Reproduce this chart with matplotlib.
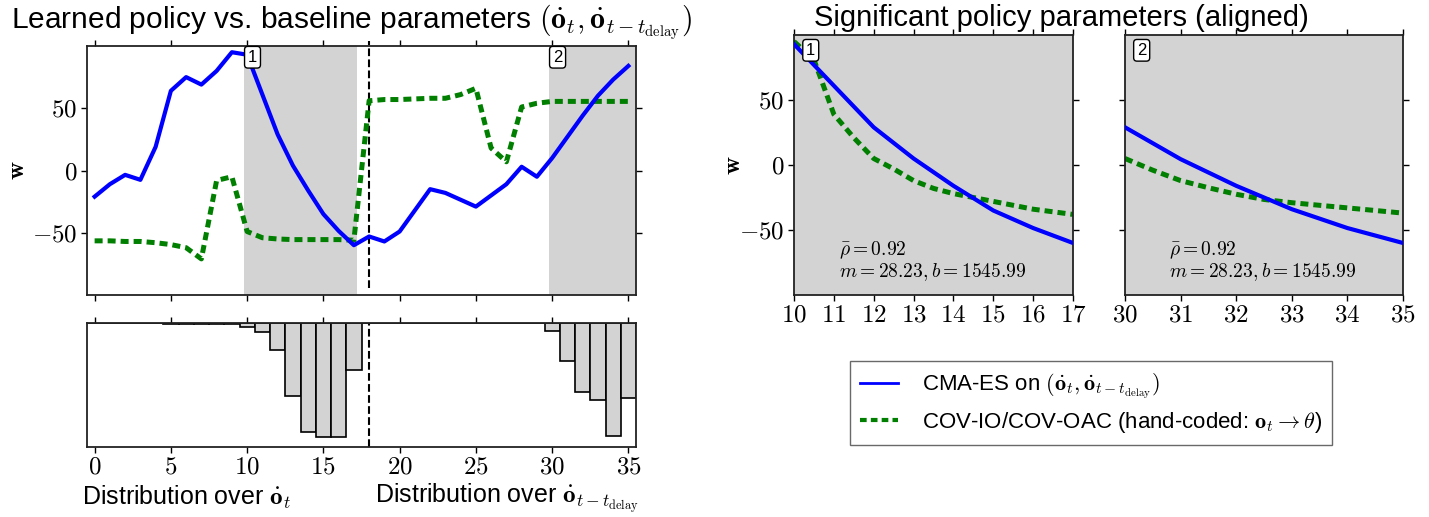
import matplotlib
matplotlib.use("Agg")
import matplotlib.pyplot as plt
from matplotlib import font_manager
import numpy as np

# parameter index (left panels)
idx = np.arange(36)
# CMA-ES learned weights
cma_w = [-21, -11, -3.5, -7.5, 19, 64, 75, 69, 80, 95,
         93, 61, 29, 4, -16, -35, -48.5, -60,
         -53, -57, -49, -32, -15, -18, -23.5, -29, -20, -11,
         3, -5, 10, 27, 44, 60, 73, 84]
# hand-coded baseline weights
cov_w = [-56.5, -56.5, -57, -57, -58, -59.5, -62, -71, -8, -5,
         -49, -54, -55, -55.5, -55.5, -55.5, -55.5, -56,
         56, 57, 57, 57.5, 58, 58, 61, 66, 18, 7,
         51, 54, 55.5, 55.5, 55.5, 55.5, 55.5, 55.5]
# distribution over inputs (share of panel depth, %)
dist = [0, 0, 0, 0, 0, 0.5, 0.8, 0.8, 0.8, 0.8,
        3.2, 7.3, 21.5, 59, 88, 91.7, 91.7, 37.6,
        0, 0, 0, 0, 0, 0, 0, 0, 0, 0,
        0, 0.4, 6.7, 30.3, 55.8, 61.7, 91.2, 60.3]
split = 18
regions = [(9.8, 17.2), (29.8, 35.5)]

# aligned panels
x1 = [10, 11, 12, 13, 14, 15, 16, 17]
cma1 = [93, 61, 29, 5, -16, -35, -48.5, -60]
x1h = [10, 10.5, 11, 11.5, 12, 12.5, 13, 13.5, 14, 14.5, 15, 15.5, 16, 16.5, 17]
cov1 = [95, 81, 39, 21, 5, -3, -12, -18, -22, -25, -28, -31, -34, -36, -38]
x2 = [30, 31, 32, 33, 34, 35]
cma2 = [29, 4.5, -16, -34, -48.5, -60]
x2h = [30, 30.5, 31, 31.5, 32, 32.5, 33, 33.5, 34, 34.5, 35]
cov2 = [5, -4, -12, -17.5, -22.5, -26.5, -29, -31, -33, -35, -37]
stats_txt = r"$\bar{\rho} = 0.92$" + "\n" + r"$m = 28.23, b = 1545.99$"

names = {f.name for f in font_manager.fontManager.ttflist}
sans = "Liberation Sans Narrow" if "Liberation Sans Narrow" in names else "Liberation Sans"

plt.rcParams["font.family"] = "serif"
plt.rcParams["font.serif"] = ["cmr10"]
plt.rcParams["mathtext.fontset"] = "cm"
plt.rcParams["axes.formatter.use_mathtext"] = True
plt.rcParams["axes.unicode_minus"] = True

BLUE = "#0000ff"
GREEN = "#007f00"
SHADE = "#d3d3d3"
dots = (0, (1.6, 1.0))


def style_axes(ax):
    for s in ax.spines.values():
        s.set_linewidth(1.3)
        s.set_color("#222222")
    ax.tick_params(direction="out", length=4, width=1, top=True, right=True,
                   labelsize=18, pad=3)


fig = plt.figure(figsize=(14.29, 5.17), dpi=100)
W, H = 1429, 517


def box(l, t, r, b):
    return [l / W, 1 - b / H, (r - l) / W, (b - t) / H]


ax = fig.add_axes(box(87, 46, 636, 295))
ax2 = fig.add_axes(box(87, 323, 636, 447))
axr1 = fig.add_axes(box(794, 35, 1073, 295))
axr2 = fig.add_axes(box(1125, 35, 1403, 295))

# top-left: learned vs baseline weights
for a, b in regions:
    ax.axvspan(a, b, color=SHADE, lw=0, zorder=0)
ax.plot(idx, cma_w, color=BLUE, lw=3, zorder=3)
ax.plot(idx, cov_w, color=GREEN, lw=3.6, ls=dots, zorder=2)
ax.axvline(split, color="k", ls="--", lw=1.5, ymin=0.03, ymax=1.02, clip_on=False, zorder=1)
ax.set_xlim(-0.5, 35.5)
ax.set_ylim(-100, 100)
ax.set_xticks(range(0, 36, 5))
ax.set_yticks([-50, 0, 50])
style_axes(ax)
ax.tick_params(labelbottom=False)
ax.set_ylabel(r"$\mathbf{w}$", fontsize=18)
ax.yaxis.set_label_coords(-0.105, 0.5)
for (a, b), lab in zip(regions, ["1", "2"]):
    ax.text(a + 0.25, 97, lab, fontsize=12, family=sans, ha="left", va="top", zorder=5,
            bbox=dict(boxstyle="round,pad=0.2", fc="white", ec="black", lw=1))

# bottom-left: distribution
ax2.bar(idx, [-d for d in dist], width=1, color=SHADE, edgecolor="black", lw=1.2)
ax2.axvline(split, color="k", ls="--", lw=1.5)
ax2.set_xlim(-0.5, 35.5)
ax2.set_ylim(-100, 0)
ax2.set_xticks(range(0, 36, 5))
ax2.set_yticks([])
style_axes(ax2)
ax2.tick_params(right=False)
ax2.text(-0.01, -0.41, r"Distribution over $\dot{\mathbf{o}}_t$", transform=ax2.transAxes,
         family=sans, fontsize=18, ha="left", va="center")
ax2.text(0.525, -0.41, r"Distribution over $\dot{\mathbf{o}}_{t-t_{\mathrm{delay}}}$",
         transform=ax2.transAxes, family=sans, fontsize=18, ha="left", va="center")

# right: aligned significant parameters
for a_, xs, cm, xh, cv, lo, hi, lab, ticks in [
        (axr1, x1, cma1, x1h, cov1, 10, 17, "1", range(10, 18)),
        (axr2, x2, cma2, x2h, cov2, 30, 35, "2", range(30, 36))]:
    a_.set_facecolor(SHADE)
    a_.plot(xs, cm, color=BLUE, lw=3, zorder=3)
    a_.plot(xh, cv, color=GREEN, lw=3.6, ls=dots, zorder=2)
    a_.set_xlim(lo, hi)
    a_.set_ylim(-100, 100)
    a_.set_xticks(list(ticks))
    a_.set_yticks([-50, 0, 50])
    style_axes(a_)
    a_.text(0.06, 0.97, lab, transform=a_.transAxes, fontsize=12, family=sans,
            ha="center", va="top", zorder=5,
            bbox=dict(boxstyle="round,pad=0.2", fc="white", ec="black", lw=1))
    a_.text(0.16, 0.045, stats_txt, transform=a_.transAxes, fontsize=14,
            ha="left", va="bottom", linespacing=1.0)
axr2.tick_params(labelleft=False)
axr1.set_ylabel(r"$\mathbf{w}$", fontsize=18)
axr1.yaxis.set_label_coords(-0.175, 0.5)

fig.text(352 / W, 1 - 22 / H,
         r"Learned policy vs. baseline parameters $(\dot{\mathbf{o}}_t, \dot{\mathbf{o}}_{t-t_{\mathrm{delay}}})$",
         family=sans, fontsize=21.5, ha="center", va="center")
fig.text(1061 / W, 1 - 18 / H, "Significant policy parameters (aligned)",
         family=sans, fontsize=21, ha="center", va="center")

# legend
h1, = axr1.plot([], [], color=BLUE, lw=2)
h2, = axr1.plot([], [], color=GREEN, lw=3, ls=dots)
fig.legend([h1, h2],
           [r"CMA-ES on $(\dot{\mathbf{o}}_t, \dot{\mathbf{o}}_{t-t_{\mathrm{delay}}})$",
            r"COV-IO/COV-OAC (hand-coded: $\mathbf{o}_t \rightarrow \theta$)"],
           loc="center", bbox_to_anchor=(1091 / W, 1 - 403 / H),
           prop=dict(family=sans, size=16), frameon=True, fancybox=False,
           edgecolor="#444444", handlelength=1.7, handletextpad=1.1,
           borderpad=0.45, labelspacing=0.4)

fig.savefig("out.png", dpi=100)
